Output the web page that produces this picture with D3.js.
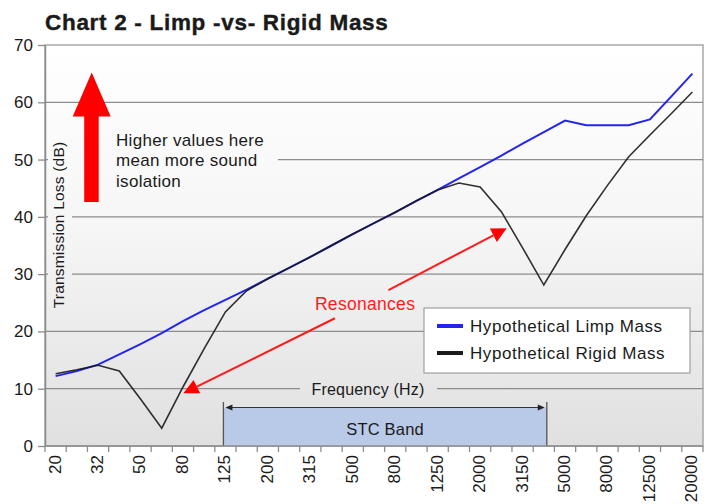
<!DOCTYPE html>
<html><head><meta charset="utf-8">
<script src="https://cdn.jsdelivr.net/npm/d3@7"></script>
<style>
body{margin:0;background:#fff}
text{font-family:"Liberation Sans",Arial,Helvetica,sans-serif;fill:#1a1a1a}
</style>
</head><body>
<svg id="c" width="710" height="504"></svg>
<script>
// ---- data ----
const categories = ["20","25","32","40","50","63","80","100","125","160","200","250","315","400","500","630","800","1000","1250","1600","2000","2500","3150","4000","5000","6300","8000","10000","12500","16000","20000"];
const tickLabels = ["20","32","50","80","125","200","315","500","800","1250","2000","3150","5000","8000","12500","20000"];
const limpMass  = [12.2,13.1,14.2,16.0,17.8,19.7,21.8,23.7,25.5,27.3,29.2,31.1,33.0,35.0,37.0,38.9,40.8,42.8,44.7,46.7,48.7,50.7,52.8,54.8,56.8,56.0,56.0,56.0,57.0,61.0,65.0];
const rigidMass = [12.6,13.3,14.1,13.1,8.2,3.1,10.3,17.0,23.4,27.1,29.2,31.1,33.0,35.0,37.0,38.9,40.8,42.8,44.7,45.9,45.2,40.9,34.6,28.1,34.3,40.2,45.5,50.5,54.3,58.0,61.8];
const yTicks = [0,10,20,30,40,50,60,70];
const seriesNames = ["Hypothetical Limp Mass","Hypothetical Rigid Mass"];
const seriesColors = ["#2424f0","#1a1a1a"];
const stcRange = ["125","4000"];

// ---- layout ----
const L=45, R=703, T=45, B=446;
const svg = d3.select("#c");
const x = d3.scaleBand().domain(categories).range([L,R]).padding(0);
const xc = c => x(c) + x.bandwidth()/2;
const xi = d3.scaleLinear().domain([0,categories.length-1]).range([xc(categories[0]), xc(categories[categories.length-1])]);
const y = d3.scaleLinear().domain([0,70]).range([B,T]);

const defs = svg.append("defs");
const g = defs.append("linearGradient").attr("id","bg").attr("gradientUnits","userSpaceOnUse")
  .attr("x1",0).attr("y1",T).attr("x2",0).attr("y2",B);
g.append("stop").attr("offset",0).attr("stop-color","#ffffff");
g.append("stop").attr("offset",0.45).attr("stop-color","#f6f6f6");
g.append("stop").attr("offset",1).attr("stop-color","#e0e0e0");

// title
svg.append("text").attr("x",45).attr("y",30).attr("font-size",22.5).attr("font-weight","bold")
  .attr("letter-spacing","0.7").attr("stroke","#1a1a1a").attr("stroke-width",0.4).text("Chart 2 - Limp -vs- Rigid Mass");

// plot background
svg.append("rect").attr("x",L).attr("y",T).attr("width",R-L).attr("height",B-T)
  .attr("fill","url(#bg)").attr("stroke","#a8a8a8").attr("stroke-width",1.5);

// gridlines
svg.append("g").selectAll("line").data(yTicks.filter(v=>v>0&&v<70)).join("line")
  .attr("x1",L).attr("x2",R).attr("y1",d=>y(d)).attr("y2",d=>y(d))
  .attr("stroke","#8c8c8c").attr("stroke-width",1.3);

// cover boxes (same gradient as background)
const cover = (x0,y0,x1,y1)=>svg.append("rect").attr("x",x0).attr("y",y0).attr("width",x1-x0).attr("height",y1-y0).attr("fill","url(#bg)");
cover(48,135,72,315);
cover(72,125,278,195);
cover(300,378,437,399);

// STC band
const sx0 = xc(stcRange[0])-2, sx1 = xc(stcRange[1])+3;
svg.append("rect").attr("x",sx0).attr("y",408).attr("width",sx1-sx0).attr("height",B-408)
  .attr("fill","#b9c9e8");
[sx0,sx1].forEach(v=>svg.append("line").attr("x1",v).attr("x2",v).attr("y1",402).attr("y2",B)
  .attr("stroke","#555").attr("stroke-width",1.3));
svg.append("line").attr("x1",sx0+4).attr("x2",sx1-4).attr("y1",407.5).attr("y2",407.5).attr("stroke","#333").attr("stroke-width",1);
svg.append("path").attr("d",`M${sx0+2},407.5 l7,-3 v6 z M${sx1-2},407.5 l-7,-3 v6 z`).attr("fill","#222");
svg.append("text").attr("x",(sx0+sx1)/2).attr("y",435).attr("text-anchor","middle").attr("font-size",16.5).attr("letter-spacing","0.2").text("STC Band");

// Frequency label
svg.append("text").attr("x",368).attr("y",395).attr("text-anchor","middle").attr("font-size",16).attr("letter-spacing","0.2").text("Frequency (Hz)");

// y axis
const ya = svg.append("g").attr("transform",`translate(${L},0)`)
  .call(d3.axisLeft(y).tickValues(yTicks).tickSize(7).tickSizeOuter(0).tickPadding(5));
ya.select(".domain").attr("stroke","#8c8c8c").attr("stroke-width",1.5);
ya.selectAll(".tick line").attr("stroke","#8c8c8c").attr("stroke-width",1.3);
ya.selectAll(".tick text").attr("font-size",17).attr("fill","#1a1a1a").attr("font-family","Liberation Sans, Arial, sans-serif");

// x axis
svg.append("line").attr("x1",L).attr("x2",R).attr("y1",B).attr("y2",B).attr("stroke","#8c8c8c").attr("stroke-width",1.5);
svg.append("g").selectAll("line").data(categories.map(c=>x(c)).concat([R])).join("line")
  .attr("x1",d=>d).attr("x2",d=>d).attr("y1",B).attr("y2",B+6).attr("stroke","#8c8c8c").attr("stroke-width",1.3);
svg.append("g").selectAll("text").data(tickLabels).join("text")
  .attr("transform",d=>`translate(${xc(d)-1},455) rotate(-90)`)
  .attr("text-anchor","end").attr("dy","0.35em").attr("font-size",17).text(d=>d);

// y title
svg.append("text").attr("transform","translate(58.5,225) rotate(-90)").attr("text-anchor","middle")
  .attr("dy","0.35em").attr("font-size",15.5).attr("letter-spacing","0.2").text("Transmission Loss (dB)");

// series
const line = d3.line().x((d,i)=>xc(categories[i])).y(d=>y(d));
svg.append("path").attr("d",line(limpMass)).attr("fill","none").attr("stroke",seriesColors[0]).attr("stroke-width",2);
svg.append("path").attr("d",line(rigidMass)).attr("fill","none").attr("stroke",seriesColors[1]).attr("stroke-width",1.6).attr("stroke-opacity",0.9);

// big red arrow
const ax = xi(1.7), ayTip = y(65.2), ayBase = y(42.6);
svg.append("path").attr("d",`M${ax},${ayTip} L${ax+19},${ayTip+44} L${ax+7},${ayTip+44} L${ax+7},${ayBase} L${ax-7.5},${ayBase} L${ax-7.5},${ayTip+44} L${ax-19},${ayTip+44} Z`)
  .attr("fill","#ff0000");

// note text
const note = ["Higher values here","mean more sound","isolation"];
svg.append("g").selectAll("text").data(note).join("text")
  .attr("x",116).attr("y",(d,i)=>146+i*20.3).attr("font-size",17).attr("letter-spacing","0.3").text(d=>d);

// resonance arrows
function redArrow(i0,v0,i1,v1){
  const x0=xi(i0),y0=y(v0),x1=xi(i1),y1=y(v1);
  const dx=x1-x0,dy=y1-y0,len=Math.hypot(dx,dy),ux=dx/len,uy=dy/len;
  const hl=15,hw=7.5;
  const bx=x1-ux*hl,by=y1-uy*hl;
  svg.append("line").attr("x1",x0).attr("y1",y0).attr("x2",bx).attr("y2",by).attr("stroke","#ff1a1a").attr("stroke-width",2);
  svg.append("path").attr("d",`M${x1},${y1} L${bx-uy*hw},${by+ux*hw} L${bx+uy*hw},${by-ux*hw} Z`).attr("fill","#ff0000");
}
redArrow(15.68,27.2,21.25,38.0);
redArrow(13.16,22.3,6.02,9.2);
svg.append("text").attr("x",xi(14.58)).attr("y",y(23.7)).attr("text-anchor","middle").attr("font-size",17.5)
  .attr("letter-spacing","0.3").style("fill","#ff1a1a").text("Resonances");

// legend
const lg = svg.append("g");
lg.append("rect").attr("x",424).attr("y",308).attr("width",266).attr("height",65).attr("fill","#fff").attr("stroke","#a0a0a0").attr("stroke-width",1.2);
seriesNames.forEach((n,i)=>{
  const yy = 326 + i*27;
  lg.append("line").attr("x1",437).attr("x2",463).attr("y1",yy).attr("y2",yy).attr("stroke",seriesColors[i]).attr("stroke-width",4);
  lg.append("text").attr("x",470).attr("y",yy).attr("dy","0.35em").attr("font-size",17).attr("letter-spacing","0.55").text(n);
});
</script>
</body></html>
